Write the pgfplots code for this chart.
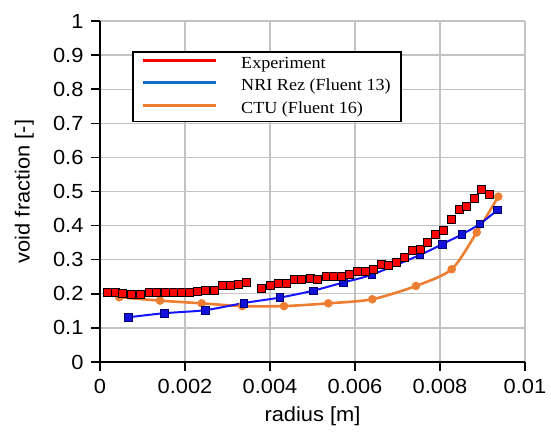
\documentclass[border=0pt]{standalone}
\usepackage{fontspec}
\setmainfont{Liberation Sans}[FakeStretch=1.07]
\newfontfamily\legfont{Liberation Serif}[FakeStretch=1.07]
\usepackage{pgfplots}
\pgfplotsset{compat=1.18}

\definecolor{expred}{RGB}{255,0,0}
\definecolor{nriblue}{RGB}{20,20,255}
\definecolor{nriedge}{RGB}{0,0,110}
\definecolor{legblue}{RGB}{20,110,200}
\definecolor{ctuorange}{RGB}{237,125,49}
\definecolor{gridgray}{RGB}{195,195,195}

% Measured void fraction across the radius
\pgfplotstableread{
r        alpha
0.000172 0.203
0.000353 0.203
0.000534 0.201
0.000746 0.199
0.000941 0.199
0.001153 0.205
0.001334 0.205
0.001529 0.205
0.001725 0.205
0.001922 0.205
0.002101 0.205
0.002289 0.207
0.002487 0.209
0.002682 0.211
0.002887 0.224
0.003075 0.224
0.003254 0.229
0.003435 0.234
0.003805 0.216
0.004000 0.226
0.004195 0.231
0.004376 0.232
0.004565 0.243
0.004746 0.243
0.004941 0.245
0.005122 0.243
0.005318 0.252
0.005489 0.252
0.005671 0.252
0.005859 0.257
0.006054 0.267
0.006235 0.265
0.006431 0.273
0.006612 0.287
0.006784 0.282
0.006981 0.292
0.007160 0.306
0.007348 0.326
0.007529 0.331
0.007711 0.350
0.007899 0.374
0.008078 0.385
0.008275 0.418
0.008447 0.448
0.008628 0.457
0.008807 0.479
0.008981 0.507
0.009160 0.493
}\experiment

% NRI Rez, Fluent 13
\pgfplotstableread{
r        alpha
0.000659 0.131
0.001506 0.143
0.002478 0.152
0.003388 0.173
0.004235 0.189
0.005012 0.209
0.005718 0.233
0.006393 0.256
0.007529 0.314
0.008059 0.346
0.008511 0.374
0.008941 0.405
0.009353 0.446
}\nrirez

% CTU, Fluent 16
\pgfplotstableread{
r        alpha
0.000454 0.190
0.001412 0.180
0.002393 0.172
0.003348 0.164
0.004329 0.164
0.005372 0.172
0.006407 0.184
0.007435 0.223
0.008275 0.272
0.008864 0.380
0.009372 0.485
}\ctu

\begin{document}
\begin{tikzpicture}
\begin{axis}[
  at={(0bp,0bp)}, anchor=south west,
  scale only axis, width=425bp, height=341bp,
  xmin=0, xmax=0.01, ymin=0, ymax=1,
  xtick={0,0.002,0.004,0.006,0.008,0.01},
  xticklabels={0,0.002,0.004,0.006,0.008,0.01},
  ytick={0,0.1,0.2,0.3,0.4,0.5,0.6,0.7,0.8,0.9,1},
  yticklabels={0,0.1,0.2,0.3,0.4,0.5,0.6,0.7,0.8,0.9,1},
  scaled x ticks=false, scaled y ticks=false,
  axis lines=left, axis line style={-, line width=1.5bp, black},
  tick align=outside, major tick length=9bp,
  tick style={line width=1.4bp, black},
  grid=major, grid style={line width=1.3bp, gridgray},
  font=\fontsize{20.5}{25}\selectfont,
  xticklabel style={yshift=-5bp},
  yticklabel style={xshift=-4bp},
  xlabel={radius [m]}, ylabel={void fraction [-]},
  xlabel style={at={(axis description cs:0.5,-0.16)}, anchor=center},
  ylabel style={at={(axis description cs:-0.178,0.5)}, anchor=center},
  legend style={at={(0.076,0.912)}, anchor=north west,
    draw=black, line width=1.8bp, fill=white,
    font=\legfont\fontsize{17}{20}\selectfont,
    inner xsep=8bp, inner ysep=2.5bp, column sep=22bp, row sep=3bp,
    nodes={inner sep=2bp, text height=12bp, text depth=3.5bp}},
  legend cell align=left,
  legend image code/.code={\draw[#1] (0bp,4bp) -- (73bp,4bp);},
]
\addlegendimage{expred, line width=3bp}
\addlegendentry{Experiment}
\addlegendimage{legblue, line width=3bp}
\addlegendentry{NRI Rez (Fluent 13)}
\addlegendimage{ctuorange, line width=3bp}
\addlegendentry{CTU (Fluent 16)}

\addplot[forget plot, ctuorange, line width=2.6bp, smooth, tension=0.45,
  mark=*, mark size=4bp, mark options={fill=ctuorange, draw=ctuorange, line width=0.5bp}]
  table[x=r, y=alpha] {\ctu};
\addplot[forget plot, nriblue, line width=2bp, smooth, tension=0.45,
  mark=square*, mark size=3.8bp, mark options={fill=nriblue!85!black, draw=nriedge, line width=0.6bp}]
  table[x=r, y=alpha] {\nrirez};
\addplot[forget plot, only marks,
  mark=square*, mark size=4bp, mark options={fill=expred, draw=black, line width=0.7bp}]
  table[x=r, y=alpha] {\experiment};
\end{axis}
\path[use as bounding box] (-100bp,-70bp) rectangle (451bp,362bp);
\end{tikzpicture}
\end{document}
